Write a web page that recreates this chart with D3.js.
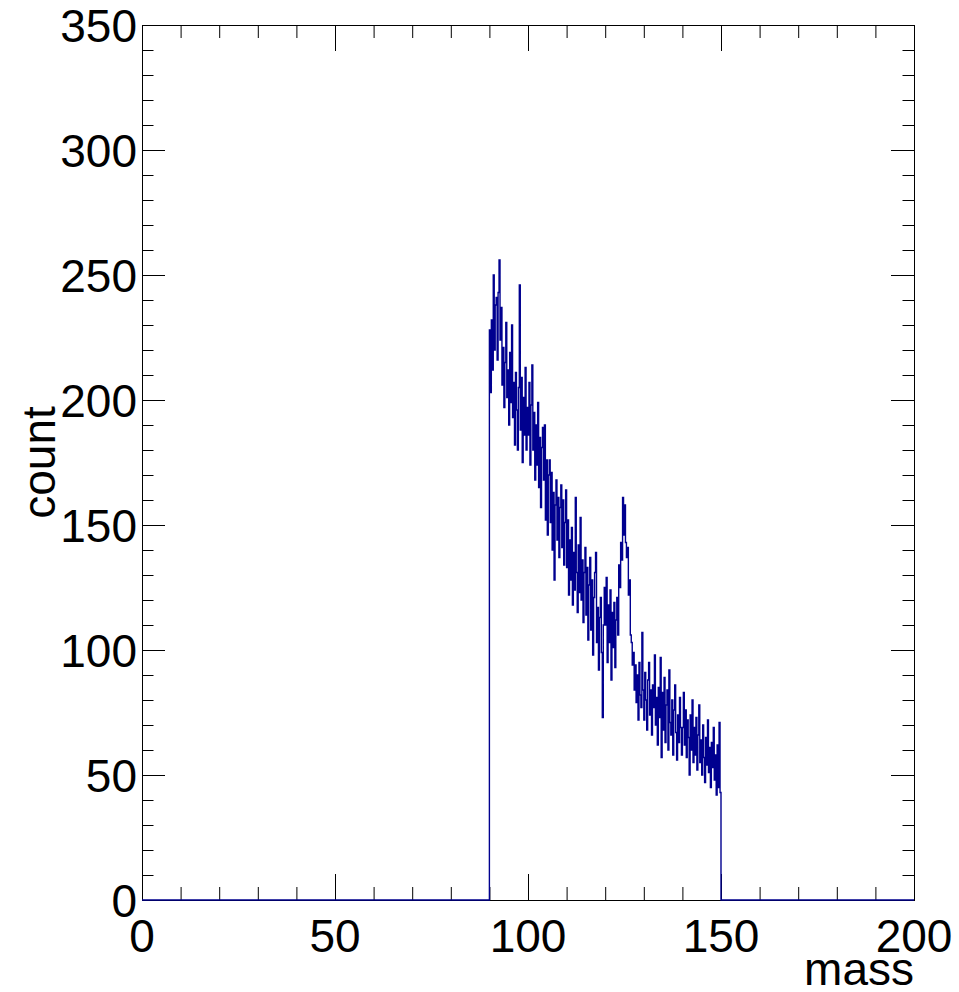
<!DOCTYPE html>
<html>
<head>
<meta charset="utf-8">
<script src="https://cdn.jsdelivr.net/npm/d3@7"></script>
<style>
    body { margin: 0; background: #fff; }
    svg { display: block; }
    text { font-family: "Liberation Sans", Arial, Helvetica, sans-serif; fill: #000; }
    .axis line { stroke: #000; stroke-width: 1; }
    .axis path { display: none; }
</style>
</head>
<body>
<svg id="chart"></svg>
<script>
// histogram range and binning (mass 90..150, bins of 0.25)
const histStart = 90;
const binWidth = 0.25;
const xDomain = [0, 200];
const yDomain = [0, 350];
const xMajorTicks = [0, 50, 100, 150, 200];
const yMajorTicks = [0, 50, 100, 150, 200, 250, 300, 350];

// counts, 40 bins per 10 units of mass
const counts90 = [228, 203, 232, 212, 250, 220, 238, 241, 216, 243, 256, 224, 237, 206, 221, 197, 215, 231, 201, 212,
    190, 219, 199, 230, 193, 207, 182, 211, 196, 180, 205, 246, 188, 209, 175, 201, 186, 213, 180, 197];
const counts100 = [186, 207, 174, 198, 214, 180, 195, 168, 190, 174, 199, 165, 185, 157, 181, 189, 168, 190, 152, 176,
    146, 170, 176, 151, 171, 140, 163, 128, 158, 168, 144, 161, 137, 157, 166, 141, 160, 134, 151, 164];
const counts110 = [133, 152, 122, 144, 128, 149, 118, 139, 124, 161, 131, 115, 142, 123, 153, 120, 136, 111, 131, 141,
    114, 133, 104, 126, 137, 108, 128, 98, 121, 131, 139, 103, 117, 92, 113, 121, 99, 73, 110, 125];
const counts120 = [110, 129, 95, 118, 103, 124, 88, 115, 101, 119, 93, 112, 121, 106, 134, 125, 143, 136, 161, 146,
    158, 143, 137, 141, 122, 128, 106, 103, 94, 99, 84, 94, 79, 90, 72, 95, 82, 77, 107, 84];
const counts130 = [72, 91, 80, 68, 88, 95, 74, 84, 66, 86, 77, 98, 70, 81, 62, 85, 73, 97, 57, 83,
    68, 89, 63, 78, 84, 60, 92, 71, 66, 80, 58, 76, 86, 67, 56, 74, 63, 81, 69, 58];
const counts140 = [69, 83, 62, 76, 57, 72, 65, 50, 74, 60, 80, 55, 69, 58, 73, 52, 66, 78, 55, 64,
    50, 70, 57, 47, 65, 54, 72, 51, 61, 45, 63, 53, 69, 48, 58, 42, 62, 45, 71, 43];

class Histogram {
    constructor(_config, _counts) {
        this.config = {
            parentElement: _config.parentElement,
            containerWidth: _config.containerWidth || 959,
            containerHeight: _config.containerHeight || 992,
            margin: _config.margin || { top: 25, right: 45, bottom: 92, left: 142 }
        };
        this.counts = _counts;
        this.initVis();
    }
    initVis() {
        let vis = this;
        vis.width = vis.config.containerWidth - vis.config.margin.left - vis.config.margin.right;
        vis.height = vis.config.containerHeight - vis.config.margin.top - vis.config.margin.bottom;
        vis.xScale = d3.scaleLinear().domain(xDomain).range([0, vis.width]);
        vis.yScale = d3.scaleLinear().domain(yDomain).range([vis.height, 0]);

        vis.svg = d3.select(vis.config.parentElement)
            .attr('width', vis.config.containerWidth)
            .attr('height', vis.config.containerHeight);
        vis.chart = vis.svg.append('g')
            .attr('transform', `translate(${vis.config.margin.left},${vis.config.margin.top})`);
    }
    updateVis() {
        let vis = this;
        // step outline: zero everywhere outside the filled range
        vis.points = [[xDomain[0], 0], [histStart, 0]];
        vis.counts.forEach((c, i) => {
            vis.points.push([histStart + i * binWidth, c]);
            vis.points.push([histStart + (i + 1) * binWidth, c]);
        });
        vis.points.push([histStart + vis.counts.length * binWidth, 0]);
        vis.points.push([xDomain[1], 0]);
        vis.line = d3.line().x(d => vis.xScale(d[0])).y(d => vis.yScale(d[1]));
        vis.renderVis();
    }
    renderVis() {
        let vis = this;
        const xMinor = d3.range(xDomain[0], xDomain[1] + 1, 10).filter(v => !xMajorTicks.includes(v));
        const yMinor = d3.range(yDomain[0], yDomain[1] + 1, 10).filter(v => !yMajorTicks.includes(v));
        const xTick = Math.round(vis.height * 0.03);
        const yTick = Math.round(vis.width * 0.03);

        // ticks on all four sides, pointing inwards
        const addAxis = (axisFn, scale, values, size, transform) => {
            vis.chart.append('g').attr('class', 'axis').attr('transform', transform)
                .call(axisFn(scale).tickValues(values).tickSizeInner(-size).tickSizeOuter(0).tickFormat(''));
        };
        addAxis(d3.axisBottom, vis.xScale, xMajorTicks, xTick, `translate(0,${vis.height})`);
        addAxis(d3.axisBottom, vis.xScale, xMinor, xTick / 2, `translate(0,${vis.height})`);
        addAxis(d3.axisTop, vis.xScale, xMajorTicks, xTick, 'translate(0,0)');
        addAxis(d3.axisTop, vis.xScale, xMinor, xTick / 2, 'translate(0,0)');
        addAxis(d3.axisLeft, vis.yScale, yMajorTicks, yTick, 'translate(0,0)');
        addAxis(d3.axisLeft, vis.yScale, yMinor, yTick / 2, 'translate(0,0)');
        addAxis(d3.axisRight, vis.yScale, yMajorTicks, yTick, `translate(${vis.width},0)`);
        addAxis(d3.axisRight, vis.yScale, yMinor, yTick / 2, `translate(${vis.width},0)`);

        vis.chart.append('rect')
            .attr('x', 0.5).attr('y', 0.5)
            .attr('width', vis.width).attr('height', vis.height)
            .attr('fill', 'none').attr('stroke', '#000').attr('stroke-width', 1);

        vis.chart.append('path')
            .datum(vis.points)
            .attr('fill', 'none')
            .attr('stroke', '#00008f')
            .attr('stroke-width', 1.4)
            .attr('stroke-linejoin', 'miter')
            .attr('d', vis.line);

        // tick labels
        vis.chart.selectAll('.x-label').data(xMajorTicks).join('text')
            .attr('class', 'x-label')
            .attr('x', d => vis.xScale(d))
            .attr('y', vis.height + 52)
            .attr('text-anchor', 'middle')
            .style('font-size', '46px')
            .text(d => d);
        vis.chart.selectAll('.y-label').data(yMajorTicks).join('text')
            .attr('class', 'y-label')
            .attr('x', -5)
            .attr('y', d => vis.yScale(d))
            .attr('dy', '0.38em')
            .attr('text-anchor', 'end')
            .style('font-size', '46px')
            .text(d => d);

        // axis titles
        vis.chart.append('text')
            .attr('x', vis.width)
            .attr('y', vis.height + 85)
            .attr('text-anchor', 'end')
            .style('font-size', '46px')
            .text('mass');
        vis.chart.append('text')
            .attr('transform', `translate(${55 - vis.config.margin.left},${vis.height / 2}) rotate(-90)`)
            .attr('text-anchor', 'middle')
            .style('font-size', '46px')
            .text('count');
    }
}

const allCounts = [].concat(counts90, counts100, counts110, counts120, counts130, counts140);
const hist = new Histogram({ parentElement: '#chart' }, allCounts);
hist.updateVis();
</script>
</body>
</html>
